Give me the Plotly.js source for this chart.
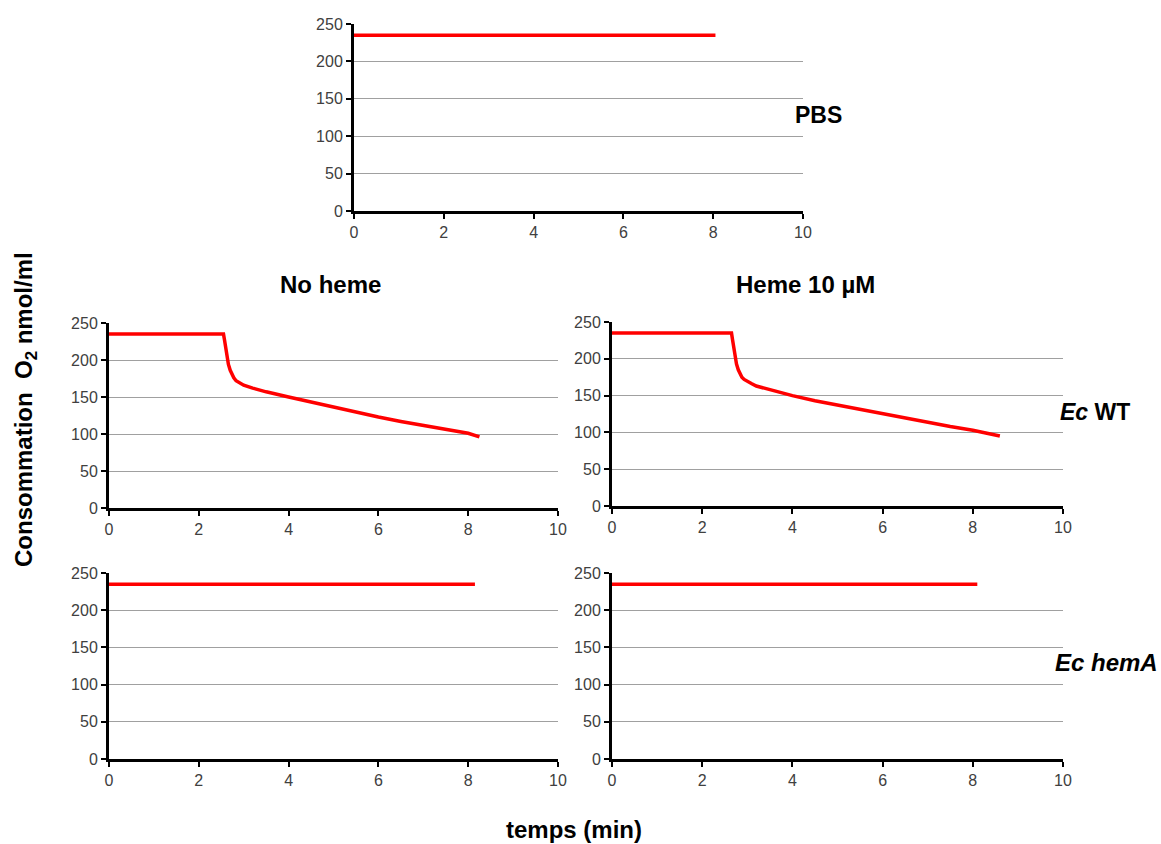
<!DOCTYPE html>
<html>
<head>
<meta charset="utf-8">
<script src="https://cdn.plot.ly/plotly-3.0.1.min.js"></script>
<style>html,body{margin:0;padding:0;background:#fff;}#chart{width:1161px;height:844px;}</style>
</head>
<body>
<div id="chart"></div>
<script>
// PBS control
const pbsTime = [0, 8.05];
const pbsO2 = [235, 235];

// Ec WT, no heme
const wtNoHemeTime = [0, 2.55, 2.57, 2.6, 2.63, 2.66, 2.7, 2.74, 2.78, 2.83, 2.9, 3.0, 3.2, 3.5, 4.0, 4.5, 5.0, 5.5, 6.0, 6.5, 7.0, 7.5, 8.0, 8.25];
const wtNoHemeO2   = [235, 235, 228, 216, 204, 194, 186, 180, 176, 172, 169, 166, 162, 157, 150, 143, 136, 129, 123, 117, 112, 106, 101, 96];

// Ec WT, heme 10 µM
const wtHemeTime = [0, 2.65, 2.67, 2.7, 2.73, 2.76, 2.8, 2.84, 2.88, 2.93, 3.0, 3.1, 3.2, 3.5, 4.0, 4.5, 5.0, 5.5, 6.0, 6.5, 7.0, 7.5, 8.0, 8.3, 8.6];
const wtHemeO2   = [235, 235, 227, 215, 203, 193, 185, 179, 175, 172, 169, 166, 163, 158, 150, 143, 137, 131, 125, 119, 114, 108, 103, 99, 95];

// Ec hemA, no heme
const hemANoHemeTime = [0, 8.15];
const hemANoHemeO2 = [235, 235];

// Ec hemA, heme 10 µM
const hemAHemeTime = [0, 8.1];
const hemAHemeO2 = [235, 235];

const xTicks = [0, 2, 4, 6, 8, 10];
const yTicks = [0, 50, 100, 150, 200, 250];

const FONT = "Liberation Sans, Arial, sans-serif";
const RED = "#ff0000";

function tr(x, y, xa, ya) {
  return {x: x, y: y, xaxis: xa, yaxis: ya, type: "scatter", mode: "lines",
    line: {color: RED, width: 3.5}, hoverinfo: "skip", showlegend: false};
}

const data = [
  tr(pbsTime, pbsO2, "x", "y"),
  tr(wtNoHemeTime, wtNoHemeO2, "x2", "y2"),
  tr(wtHemeTime, wtHemeO2, "x3", "y3"),
  tr(hemANoHemeTime, hemANoHemeO2, "x4", "y4"),
  tr(hemAHemeTime, hemAHemeO2, "x5", "y5")
];

function xax(dom, anchor) {
  return {domain: dom, anchor: anchor, range: [0, 10], tickvals: xTicks, ticktext: xTicks.map(String),
    showgrid: false, zeroline: false, showline: true, linecolor: "#000", linewidth: 3,
    ticks: "outside", ticklen: 5, tickwidth: 2, tickcolor: "#000",
    tickfont: {family: FONT, size: 16, color: "#404040"}, fixedrange: true};
}
function yax(dom, anchor) {
  return {domain: dom, anchor: anchor, range: [0, 250], tickvals: yTicks, ticktext: yTicks.map(String),
    showgrid: true, gridcolor: "#a0a0a0", gridwidth: 1, zeroline: false,
    showline: true, linecolor: "#000", linewidth: 3,
    ticks: "outside", ticklen: 5, tickwidth: 2, tickcolor: "#000",
    tickfont: {family: FONT, size: 16, color: "#404040"}, fixedrange: true};
}

const W = 1161, H = 844;
function fx(px) { return px / W; }
function fy(py) { return 1 - py / H; }

const layout = {
  width: W, height: H,
  margin: {l: 0, r: 0, t: 0, b: 0},
  paper_bgcolor: "#fff", plot_bgcolor: "#fff",
  showlegend: false,
  xaxis:  xax([fx(354), fx(803)], "y"),
  yaxis:  yax([fy(211), fy(24)], "x"),
  xaxis2: xax([fx(109), fx(558)], "y2"),
  yaxis2: yax([fy(508), fy(323)], "x2"),
  xaxis3: xax([fx(612), fx(1063)], "y3"),
  yaxis3: yax([fy(506), fy(322)], "x3"),
  xaxis4: xax([fx(109), fx(558)], "y4"),
  yaxis4: yax([fy(759), fy(573)], "x4"),
  xaxis5: xax([fx(612), fx(1063)], "y5"),
  yaxis5: yax([fy(759), fy(573)], "x5"),
  annotations: [
    {text: "<b>PBS</b>", x: fx(793), y: fy(115), xref: "paper", yref: "paper", xanchor: "left", yanchor: "middle", showarrow: false, font: {family: FONT, size: 23, color: "#000"}},
    {text: "<b>No heme</b>", x: fx(330), y: fy(284), xref: "paper", yref: "paper", xanchor: "center", yanchor: "middle", showarrow: false, font: {family: FONT, size: 24, color: "#000"}},
    {text: "<b>Heme 10 µM</b>", x: fx(805), y: fy(284), xref: "paper", yref: "paper", xanchor: "center", yanchor: "middle", showarrow: false, font: {family: FONT, size: 24, color: "#000"}},
    {text: "<b><i>Ec</i> WT</b>", x: fx(1058), y: fy(412), xref: "paper", yref: "paper", xanchor: "left", yanchor: "middle", showarrow: false, font: {family: FONT, size: 23, color: "#000"}},
    {text: "<b><i>Ec hemA</i></b>", x: fx(1160), y: fy(662), xref: "paper", yref: "paper", xanchor: "right", yanchor: "middle", showarrow: false, font: {family: FONT, size: 24, color: "#000"}},
    {text: "<b>temps (min)</b>", x: fx(574), y: fy(829), xref: "paper", yref: "paper", xanchor: "center", yanchor: "middle", showarrow: false, font: {family: FONT, size: 24, color: "#000"}},
    {text: "<b>Consommation  O<sub>2</sub> nmol/ml</b>", x: fx(26), y: fy(410), xref: "paper", yref: "paper", xanchor: "center", yanchor: "middle", textangle: -90, showarrow: false, font: {family: FONT, size: 24, color: "#000"}}
  ]
};

Plotly.newPlot("chart", data, layout, {staticPlot: true, displayModeBar: false});
</script>
</body>
</html>
